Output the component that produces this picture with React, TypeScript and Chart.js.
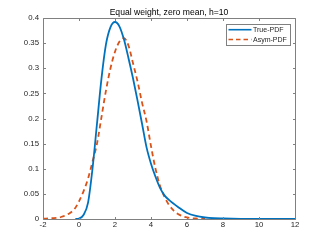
import React, { useEffect, useRef } from "react";
import { Chart, registerables } from "chart.js";

Chart.register(...registerables);

const titleText = "Equal weight, zero mean, h=10";
const seriesNames = ["True-PDF", "Asym-PDF"];
const xTicks = [-2, 0, 2, 4, 6, 8, 10, 12];
const yTicks = [0, 0.05, 0.1, 0.15, 0.2, 0.25, 0.3, 0.35, 0.4];

const xTrue = [-0.2, 0, 0.25, 0.5, 0.75, 1.0, 1.25, 1.5, 1.75, 2.0, 2.25, 2.5, 2.75, 3.0, 3.25, 3.5, 3.75, 4.0, 4.25, 4.5, 4.75, 5.0, 5.5, 6.0, 6.5, 7.0, 7.5, 8.0, 9.0, 10.0, 11.0, 12.0];
const yTrue = [0, 0.001, 0.008, 0.032, 0.1, 0.19, 0.28, 0.348, 0.382, 0.392, 0.383, 0.357, 0.32, 0.28, 0.236, 0.19, 0.143, 0.11, 0.084, 0.062, 0.047, 0.038, 0.024, 0.012, 0.006, 0.003, 0.0015, 0.001, 0.0004, 0.0001, 0, 0];

const xAsym = [-2, -1.5, -1.0, -0.5, -0.25, 0, 0.25, 0.5, 0.75, 1.0, 1.25, 1.5, 1.75, 2.0, 2.25, 2.5, 2.75, 3.0, 3.25, 3.5, 3.75, 4.0, 4.25, 4.5, 4.75, 5.0, 5.25, 5.5, 6.0, 6.5, 7.0];
const yAsym = [0.0005, 0.0015, 0.004, 0.012, 0.02, 0.035, 0.055, 0.08, 0.114, 0.15, 0.203, 0.256, 0.3, 0.333, 0.353, 0.36, 0.345, 0.31, 0.274, 0.232, 0.195, 0.145, 0.1, 0.066, 0.044, 0.028, 0.017, 0.01, 0.003, 0.001, 0];

const colors = ["#0072BD", "#D95319"];
const FONT = "'Liberation Sans', Arial, Helvetica, sans-serif";
const AXIS_COLOR = "#262626";
const FRAME_COLOR = "#808080";

const matlabPlugin = {
  id: "matlabDecor",
  afterDraw(chart: any) {
    const ctx = chart.ctx;
    const { left, right, top, bottom } = chart.chartArea;
    const L = Math.round(left) + 0.5;
    const R = Math.round(right) + 0.5;
    const T = Math.round(top) + 0.5;
    const B = Math.round(bottom) + 0.5;
    ctx.save();
    ctx.strokeStyle = FRAME_COLOR;
    ctx.lineWidth = 1;
    ctx.setLineDash([]);
    ctx.beginPath();
    ctx.rect(L, T, R - L, B - T);
    ctx.stroke();
    const tl = 2.5;
    const xs = chart.scales.x;
    const ys = chart.scales.y;
    ctx.beginPath();
    xTicks.forEach((v) => {
      const px = Math.round(xs.getPixelForValue(v)) + 0.5;
      ctx.moveTo(px, B);
      ctx.lineTo(px, B - tl);
      ctx.moveTo(px, T);
      ctx.lineTo(px, T + tl);
    });
    yTicks.forEach((v) => {
      const py = Math.round(ys.getPixelForValue(v)) + 0.5;
      ctx.moveTo(L, py);
      ctx.lineTo(L + tl, py);
      ctx.moveTo(R, py);
      ctx.lineTo(R - tl, py);
    });
    ctx.stroke();

    // title
    ctx.fillStyle = "#000000";
    ctx.font = `8.6px ${FONT}`;
    ctx.textAlign = "center";
    ctx.textBaseline = "middle";
    ctx.fillText(titleText, (left + right) / 2, 13);

    // legend
    const bx = 226.5, by = 24.5, bw = 64, bh = 21;
    ctx.fillStyle = "#ffffff";
    ctx.fillRect(bx, by, bw, bh);
    ctx.strokeStyle = FRAME_COLOR;
    ctx.strokeRect(bx, by, bw, bh);
    const rows = [29.7, 39.5];
    ctx.font = `7px ${FONT}`;
    ctx.textAlign = "left";
    ctx.textBaseline = "middle";
    seriesNames.forEach((name, i) => {
      ctx.strokeStyle = colors[i];
      ctx.lineWidth = 1.6;
      ctx.setLineDash(i === 1 ? [4.5, 3] : []);
      ctx.beginPath();
      ctx.moveTo(228.5, rows[i]);
      ctx.lineTo(251.5, rows[i]);
      ctx.stroke();
      ctx.setLineDash([]);
      ctx.fillStyle = AXIS_COLOR;
      ctx.fillText(name, 253, rows[i] + 0.3);
    });
    ctx.restore();
  },
};

export default function App() {
  const ref = useRef<HTMLCanvasElement | null>(null);
  useEffect(() => {
    document.body.style.margin = "0";
    const canvas = ref.current;
    if (!canvas) return;
    const chart = new Chart(canvas, {
      type: "line",
      data: {
        datasets: [
          {
            label: seriesNames[0],
            data: xTrue.map((x, i) => ({ x, y: yTrue[i] })),
            borderColor: colors[0],
            backgroundColor: colors[0],
            borderWidth: 1.8,
            pointRadius: 0,
            cubicInterpolationMode: "monotone",
            fill: false,
          },
          {
            label: seriesNames[1],
            data: xAsym.map((x, i) => ({ x, y: yAsym[i] })),
            borderColor: colors[1],
            backgroundColor: colors[1],
            borderWidth: 1.8,
            borderDash: [5, 3.5],
            pointRadius: 0,
            cubicInterpolationMode: "monotone",
            fill: false,
          },
        ],
      },
      options: {
        animation: false,
        responsive: false,
        devicePixelRatio: 1,
        layout: { padding: { left: 0, right: 32, top: 18, bottom: 0 } },
        plugins: {
          legend: { display: false },
          title: { display: false },
          tooltip: { enabled: false },
        },
        scales: {
          x: {
            type: "linear",
            min: -2,
            max: 12,
            afterBuildTicks: (s: any) => {
              s.ticks = xTicks.map((v) => ({ value: v }));
            },
            afterFit: (s: any) => {
              s.height = 26;
            },
            grid: { display: false, drawTicks: false, tickLength: 0 },
            border: { display: false },
            ticks: {
              color: AXIS_COLOR,
              font: { family: FONT, size: 7.8 },
              padding: 1.5,
              maxRotation: 0,
              autoSkip: false,
              callback: (v: any) => String(v),
            },
          },
          y: {
            type: "linear",
            min: 0,
            max: 0.4,
            afterBuildTicks: (s: any) => {
              s.ticks = yTicks.map((v) => ({ value: v }));
            },
            afterFit: (s: any) => {
              s.width = 43;
            },
            grid: { display: false, drawTicks: false, tickLength: 0 },
            border: { display: false },
            ticks: {
              color: AXIS_COLOR,
              font: { family: FONT, size: 7.8 },
              padding: 4,
              autoSkip: false,
              callback: (v: any) => String(Number(Number(v).toFixed(2))),
            },
          },
        },
      },
      plugins: [matlabPlugin],
    } as any);
    return () => chart.destroy();
  }, []);
  return (
    <div style={{ width: 327, height: 245, background: "#ffffff" }}>
      <canvas ref={ref} width={327} height={245} />
    </div>
  );
}
